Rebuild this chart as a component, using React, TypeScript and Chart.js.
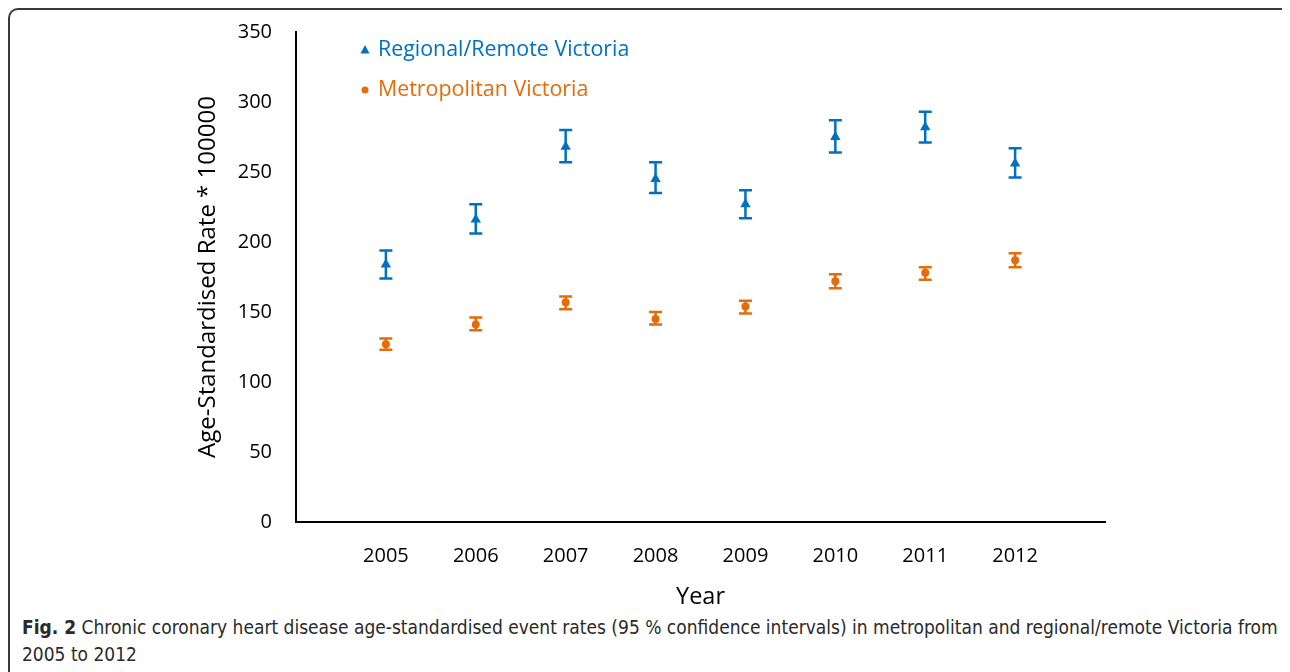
import React, { useEffect, useRef } from "react";
import { Chart, registerables } from "chart.js";

Chart.register(...registerables);

const years = [2005, 2006, 2007, 2008, 2009, 2010, 2011, 2012];
const regionalRate = [184, 216, 268, 245, 227, 275, 282, 256];
const regionalLow = [174, 206, 257, 235, 217, 264, 271, 246];
const regionalHigh = [194, 227, 280, 257, 237, 287, 293, 267];
const metroRate = [127, 141, 157, 145, 154, 172, 178, 187];
const metroLow = [123, 137, 152, 141, 149, 167, 173, 182];
const metroHigh = [131, 146, 161, 150, 158, 177, 182, 192];
const seriesNames = ["Regional/Remote Victoria", "Metropolitan Victoria"];
const yAxisTitle = "Age-Standardised Rate * 100000";
const xAxisTitle = "Year";
const yMin = 0;
const yMax = 350;
const yStep = 50;
const xMin = 2004;
const xMax = 2013;

const BLUE = "#0070C0";
const ORANGE = "#E46C0A";
const FONT = "'Open Sans', 'DejaVu Sans', sans-serif";

const lows = [regionalLow, metroLow];
const highs = [regionalHigh, metroHigh];

const errorBarPlugin = {
  id: "errorBars",
  beforeDatasetsDraw(chart: any) {
    const { ctx, scales } = chart;
    const x = scales.x;
    const y = scales.y;
    chart.data.datasets.forEach((ds: any, di: number) => {
      ctx.save();
      ctx.strokeStyle = ds.borderColor;
      ctx.lineWidth = 2.5;
      ds.data.forEach((p: any, i: number) => {
        const px = x.getPixelForValue(p.x);
        const yl = y.getPixelForValue(lows[di][i]);
        const yh = y.getPixelForValue(highs[di][i]);
        ctx.beginPath();
        ctx.moveTo(px, yl);
        ctx.lineTo(px, yh);
        ctx.moveTo(px - 6.5, yl);
        ctx.lineTo(px + 6.5, yl);
        ctx.moveTo(px - 6.5, yh);
        ctx.lineTo(px + 6.5, yh);
        ctx.stroke();
      });
      ctx.restore();
    });
  },
};

const legendPlugin = {
  id: "inlineLegend",
  afterDraw(chart: any) {
    const { ctx, chartArea } = chart;
    const mx = chartArea.left + 69;
    const tx = chartArea.left + 82;
    const rows = [chartArea.top + 18, chartArea.top + 58];
    chart.data.datasets.forEach((ds: any, i: number) => {
      const cy = rows[i];
      ctx.save();
      ctx.fillStyle = ds.borderColor;
      if (ds.pointStyle === "triangle") {
        ctx.beginPath();
        ctx.moveTo(mx, cy - 5);
        ctx.lineTo(mx + 4.5, cy + 3.5);
        ctx.lineTo(mx - 4.5, cy + 3.5);
        ctx.closePath();
        ctx.fill();
      } else {
        ctx.beginPath();
        ctx.arc(mx, cy, 3.5, 0, Math.PI * 2);
        ctx.fill();
      }
      ctx.font = `21.4px ${FONT}`;
      ctx.textBaseline = "middle";
      ctx.textAlign = "left";
      ctx.fillText(ds.label, tx, cy);
      ctx.restore();
    });
  },
};

function ChartView() {
  const ref = useRef<HTMLCanvasElement | null>(null);
  useEffect(() => {
    if (!ref.current) return;
    const chart = new Chart(ref.current, {
      type: "scatter",
      data: {
        datasets: [
          {
            label: seriesNames[0],
            data: years.map((yr, i) => ({ x: yr, y: regionalRate[i] })),
            borderColor: BLUE,
            backgroundColor: BLUE,
            pointStyle: "triangle",
            pointRadius: 6,
            pointBorderWidth: 0,
            showLine: false,
          },
          {
            label: seriesNames[1],
            data: years.map((yr, i) => ({ x: yr, y: metroRate[i] })),
            borderColor: ORANGE,
            backgroundColor: ORANGE,
            pointStyle: "circle",
            pointRadius: 4,
            pointBorderWidth: 0,
            showLine: false,
          },
        ],
      },
      options: {
        responsive: false,
        animation: false,
        layout: { padding: { left: 0, right: 177, top: 13, bottom: 0 } },
        plugins: { legend: { display: false }, tooltip: { enabled: false } },
        scales: {
          x: {
            type: "linear",
            min: xMin,
            max: xMax,
            afterBuildTicks: (scale: any) => {
              scale.ticks = years.map((v) => ({ value: v }));
            },
            afterFit: (scale: any) => {
              scale.height = 91;
            },
            ticks: {
              autoSkip: false,
              maxRotation: 0,
              padding: 22,
              color: "#000",
              font: { family: FONT, size: 20 },
              callback: (v: any) => String(v),
            },
            grid: { display: false, drawTicks: false },
            border: { display: true, color: "#000", width: 2 },
            title: {
              display: true,
              text: xAxisTitle,
              color: "#000",
              font: { family: FONT, size: 23.5 },
              padding: { top: 0, bottom: 2 },
            },
          },
          y: {
            min: yMin,
            max: yMax,
            afterFit: (scale: any) => {
              scale.width = 288;
            },
            ticks: {
              stepSize: yStep,
              padding: 24,
              color: "#000",
              font: { family: FONT, size: 20 },
            },
            grid: { display: false, drawTicks: false },
            border: { display: true, color: "#000", width: 2 },
            title: {
              display: true,
              text: yAxisTitle,
              color: "#000",
              font: { family: FONT, size: 24 },
              padding: { top: 186, bottom: 0 },
            },
          },
        },
      },
      plugins: [errorBarPlugin, legendPlugin],
    } as any);
    return () => chart.destroy();
  }, []);
  return <canvas ref={ref} width={1274} height={617} style={{ position: "absolute", left: 0, top: -12 }} />;
}

export default function App() {
  useEffect(() => {
    document.body.style.overflow = "hidden";
  }, []);
  return (
    <div style={{ position: "relative", width: 1282, height: 664, overflow: "hidden", background: "#fff" }}>
      <div
        style={{
          position: "absolute",
          left: 0,
          top: 0,
          width: 1283,
          height: 700,
          boxSizing: "border-box",
          border: "2px solid #3a3a3a",
          borderRadius: 10,
        }}
      />
      <ChartView />
      <div
        style={{
          position: "absolute",
          left: 14,
          top: 606,
          fontFamily: "'Liberation Sans Narrow', 'DejaVu Sans Condensed', sans-serif",
          fontSize: 19,
          lineHeight: "27px",
          color: "#2a2a2a",
          whiteSpace: "nowrap",
        }}
      >
        <b>Fig. 2</b> Chronic coronary heart disease age-standardised event rates (95 % confidence intervals) in metropolitan and regional/remote Victoria from
        <br />
        2005 to 2012
      </div>
    </div>
  );
}
